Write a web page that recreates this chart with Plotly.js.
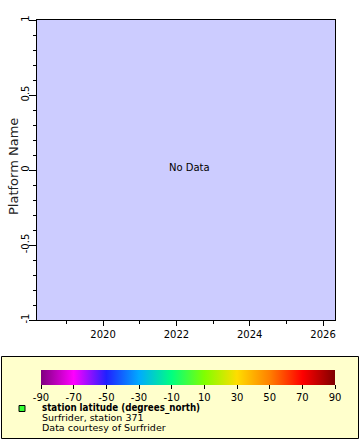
<!DOCTYPE html>
<html>
<head>
<meta charset="utf-8">
<script src="https://cdn.plot.ly/plotly-3.0.1.min.js"></script>
<style>html,body{margin:0;padding:0;background:#fff;}#chart{width:360px;height:440px;}</style>
</head>
<body>
<div id="chart"></div>
<script>
// Data (no data points in this chart)
var xRange = ["2018-03-14", "2026-04-30"];
var yRange = [-1, 1];
var yTickVals = [-1, -0.5, 0, 0.5, 1];
var yTickText = ["-1", "-0.5", "0", "0.5", "1"];
var cbTickVals = [-90, -70, -50, -30, -10, 10, 30, 50, 70, 90];
var cbTickText = ["-90", "-70", "-50", "-30", "-10", "10", "30", "50", "70", "90"];
var cbMin = -90, cbMax = 90;
var colorStops = ["#800080", "#ff00ff", "#2020ff", "#00aaff", "#00ff80", "#80ff00", "#ffdd00", "#ff8000", "#ff0000", "#800000"];
var legendTitle = "station latitude (degrees_north)";
var legendLines = ["Surfrider, station 371", "Data courtesy of Surfrider"];
var yTitle = "Platform Name";
var noDataText = "No Data";

var W = 360, H = 440;
function px(x){return x / W;}
function py(y){return 1 - y / H;}

var colorscale = colorStops.map(function(c, i){ return [i / (colorStops.length - 1), c]; });

var font = "DejaVu Sans, sans-serif";

var trace = {
  type: "scatter", mode: "markers",
  x: [null], y: [null],
  hoverinfo: "skip",
  showlegend: false,
  marker: {
    color: [0], cmin: cbMin, cmax: cbMax, colorscale: colorscale, showscale: true,
    colorbar: {
      orientation: "h",
      x: px((41 + 335) / 2), xanchor: "center",
      y: py(370), yanchor: "top",
      len: 294, lenmode: "pixels",
      thickness: 15, thicknessmode: "pixels",
      xpad: 0, ypad: 0,
      outlinewidth: 0,
      ticks: "outside", ticklen: 4, tickcolor: "#000", tickwidth: 1,
      tickmode: "array", tickvals: cbTickVals, ticktext: cbTickText,
      ticklabelstandoff: -2,
      tickfont: {family: font, size: 10, color: "#000"},
      bgcolor: "rgba(0,0,0,0)"
    }
  }
};

var layout = {
  width: W, height: H,
  margin: {l: 0, r: 0, t: 0, b: 0},
  paper_bgcolor: "#fff",
  plot_bgcolor: "#ccccff",
  showlegend: false,
  font: {family: font, size: 10, color: "#000"},
  xaxis: {
    type: "date",
    domain: [px(37), px(335)],
    range: xRange,
    showgrid: false, zeroline: false,
    showline: true, linecolor: "#000", linewidth: 1, mirror: true,
    ticks: "outside", ticklen: 5, tickcolor: "#000",
    tick0: "2020-01-01", dtick: "M24", tickformat: "%Y",
    tickfont: {family: font, size: 10, color: "#000"},
    minor: {ticks: "outside", ticklen: 3, tickcolor: "#000", dtick: "M12", tick0: "2019-01-01", showgrid: false},
    fixedrange: true
  },
  yaxis: {
    domain: [py(320), py(20)],
    range: yRange,
    showgrid: false, zeroline: false,
    showline: true, linecolor: "#000", linewidth: 1, mirror: true,
    ticks: "outside", ticklen: 7, tickcolor: "#000",
    tickmode: "array", tickvals: yTickVals, ticktext: yTickText,
    tickangle: -90,
    ticklabelstandoff: -4,
    tickfont: {family: font, size: 10, color: "#000"},
    minor: {ticks: "outside", ticklen: 3, tickcolor: "#000", dtick: 0.1, showgrid: false},
    fixedrange: true
  },
  shapes: [
    {type: "rect", xref: "paper", yref: "paper", x0: px(1.5), x1: px(358.5), y0: py(438.5), y1: py(356.5),
     fillcolor: "#ffffcc", line: {color: "#000", width: 1}, layer: "below"},
    {type: "rect", xref: "paper", yref: "paper", x0: px(19), x1: px(25), y0: py(411.5), y1: py(405.5),
     fillcolor: "#33ff33", line: {color: "#000", width: 1}}
  ],
  annotations: [
    {text: yTitle, xref: "paper", yref: "paper", x: px(13), y: py(167), showarrow: false, textangle: -90,
     font: {family: font, size: 13, color: "#222"}, xanchor: "center", yanchor: "middle"},
    {text: noDataText, xref: "paper", yref: "paper", x: px(189), y: py(167), showarrow: false,
     font: {family: font, size: 10, color: "#000"}, xanchor: "center", yanchor: "middle"},
    {text: "<b>" + legendTitle + "</b>", xref: "paper", yref: "paper", x: px(41), y: py(407.5), showarrow: false, borderpad: 0,
     font: {family: "DejaVu Sans Condensed, DejaVu Sans, sans-serif", size: 9.7, color: "#000"}, xanchor: "left", yanchor: "middle"},
    {text: legendLines[0], xref: "paper", yref: "paper", x: px(41), y: py(417.5), showarrow: false, borderpad: 0,
     font: {family: font, size: 9.5, color: "#000"}, xanchor: "left", yanchor: "middle"},
    {text: legendLines[1], xref: "paper", yref: "paper", x: px(41), y: py(427.5), showarrow: false, borderpad: 0,
     font: {family: font, size: 9.5, color: "#000"}, xanchor: "left", yanchor: "middle"}
  ]
};

Plotly.newPlot("chart", [trace], layout, {staticPlot: true, displayModeBar: false});
</script>
</body>
</html>
